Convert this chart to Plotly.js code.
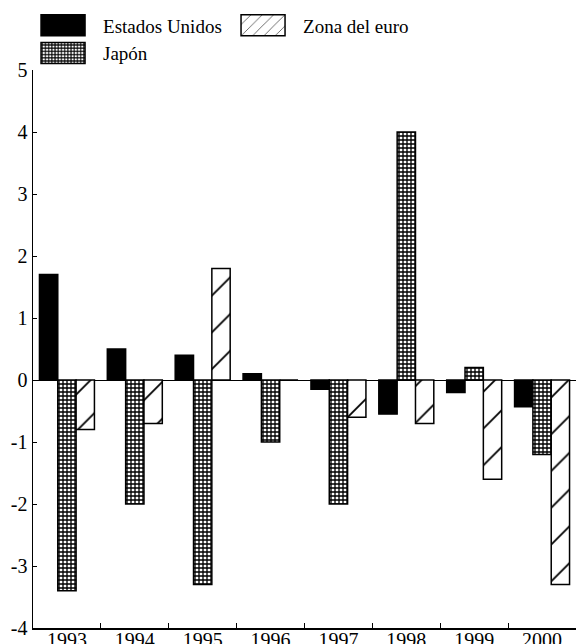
<!DOCTYPE html>
<html>
<head>
<meta charset="utf-8">
<script src="https://cdn.plot.ly/plotly-3.0.1.min.js"></script>
<style>
html,body{margin:0;padding:0;background:#fff;}
</style>
</head>
<body>
<div id="chart" style="width:576px;height:644px;"></div>
<script>
const years = ["1993","1994","1995","1996","1997","1998","1999","2000"];
const estadosUnidos = [1.7, 0.5, 0.4, 0.1, -0.15, -0.55, -0.2, -0.43];
const japon = [-3.4, -2.0, -3.3, -1.0, -2.0, 4.0, 0.2, -1.2];
const zonaEuro = [-0.8, -0.7, 1.8, 0, -0.6, -0.7, -1.6, -3.3];
const yTickVals = [-4, -3, -2, -1, 0, 1, 2, 3, 4, 5];
const yTickText = ["-4", "-3", "-2", "-1", "0", "1", "2", "3", "4", "5"];

const FONT = "Liberation Serif, Times New Roman, serif";
const lineStyle = {color: "#000", width: 1.5};
const traces = [
  {type: "bar", name: "Estados Unidos", x: years, y: estadosUnidos, legendrank: 1,
   marker: {color: "#000", line: lineStyle}},
  {type: "bar", name: "Japón", x: years, y: japon, legendrank: 3,
   marker: {color: "#fff", line: lineStyle,
            pattern: {shape: "+", fgcolor: "#000", bgcolor: "#fff", size: 4, solidity: 0.55}}},
  {type: "bar", name: "Zona del euro", x: years, y: zonaEuro, legendrank: 2,
   marker: {color: "#fff", line: lineStyle,
            pattern: {shape: "/", fgcolor: "#000", bgcolor: "#fff", size: 26, solidity: 0.07}}}
];

const layout = {
  width: 576, height: 644,
  margin: {l: 33, r: 0, t: 70, b: 16, autoexpand: false},
  paper_bgcolor: "#fff", plot_bgcolor: "#fff",
  font: {family: FONT, size: 20, color: "#000"},
  barmode: "group", bargap: 0.19, bargroupgap: 0,
  showlegend: true,
  legend: {orientation: "h", xref: "container", x: 0.04, xanchor: "left", yref: "container", y: 0.99, yanchor: "top",
           entrywidth: 115, entrywidthmode: "pixels", itemwidth: 70,
           font: {family: FONT, size: 19}, traceorder: "normal",
           bgcolor: "rgba(0,0,0,0)"},
  xaxis: {type: "category", showline: true, linecolor: "#000", linewidth: 1.5,
          ticks: "inside", tickson: "boundaries", ticklen: 5, tickcolor: "#000",
          ticklabelstandoff: -7,
          showgrid: false, zeroline: false, automargin: false, tickfont: {family: FONT, size: 20}},
  yaxis: {range: [-4, 5], showline: true, linecolor: "#000", linewidth: 1.5,
          ticks: "inside", ticklen: 4, tickcolor: "#000", tickvals: yTickVals, ticktext: yTickText,
          showgrid: false, zeroline: true, zerolinecolor: "#000", zerolinewidth: 1,
          automargin: false, tickfont: {family: FONT, size: 20}}
};

Plotly.newPlot("chart", traces, layout, {displayModeBar: false, staticPlot: true}).then(function (gd) {
  // enlarge legend swatches to the wide rectangles of the reference
  gd.querySelectorAll(".legend .legendpoints path").forEach(function (p) {
    p.setAttribute("d", "M22,10.5H-22V-10.5H22Z");
  });
});
</script>
</body>
</html>
